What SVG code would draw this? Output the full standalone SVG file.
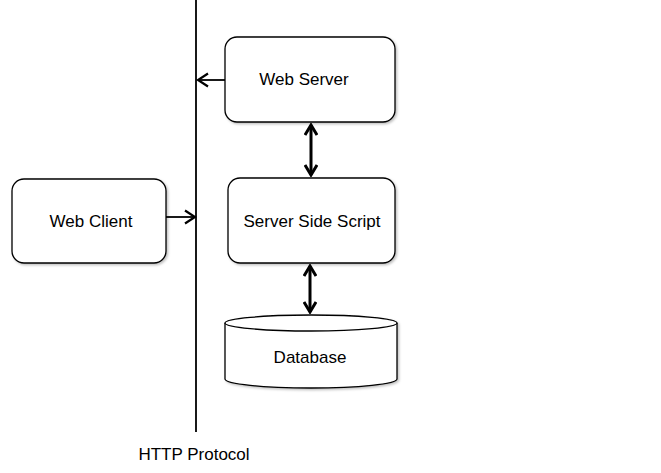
<svg xmlns="http://www.w3.org/2000/svg" width="661" height="473" viewBox="0 0 661 473">
<style>
.box{fill:#fff;stroke:#000;stroke-width:1.3}
.t{font-family:"Liberation Sans",Arial,sans-serif;font-size:17px;fill:#000;text-anchor:middle}
.c1{stroke:#000;stroke-width:1.8;fill:none}
.c2{stroke:#000;stroke-width:3;fill:none}
</style>
<defs>
<marker id="ah" markerWidth="14" markerHeight="16" refX="12" refY="8" orient="auto" markerUnits="userSpaceOnUse">
<path d="M2,1.5 L12,8 L2,14.5" fill="none" stroke="#000" stroke-width="2.2"/>
</marker>
<marker id="ahb" markerWidth="14" markerHeight="14" refX="12" refY="7" orient="auto-start-reverse" markerUnits="userSpaceOnUse">
<path d="M2,1 L12,7 L2,13" fill="none" stroke="#000" stroke-width="3"/>
</marker>
<filter id="sh" x="-10%" y="-10%" width="130%" height="130%">
<feDropShadow dx="1.5" dy="1.5" stdDeviation="1.2" flood-color="#000" flood-opacity="0.25"/>
</filter>
</defs>
<g id="connectors">
<line class="c1" x1="196" y1="0" x2="196" y2="432"/>
<line class="c1" x1="225" y1="80" x2="198" y2="80" marker-end="url(#ah)"/>
<line class="c1" x1="166" y1="217" x2="195" y2="217" marker-end="url(#ah)"/>
<line class="c2" x1="311" y1="125" x2="311" y2="175" marker-start="url(#ahb)" marker-end="url(#ahb)"/>
<line class="c2" x1="310" y1="266" x2="310" y2="312" marker-start="url(#ahb)" marker-end="url(#ahb)"/>
</g>
<g id="web-server">
<rect class="box" filter="url(#sh)" x="225" y="37" width="170" height="85" rx="12"/>
<text class="t" x="304" y="85">Web Server</text>
</g>
<g id="web-client">
<rect class="box" filter="url(#sh)" x="12" y="179" width="154" height="84" rx="12"/>
<text class="t" x="91" y="227">Web Client</text>
</g>
<g id="server-side-script">
<rect class="box" filter="url(#sh)" x="228" y="178" width="167" height="85" rx="12"/>
<text class="t" x="312" y="227">Server Side Script</text>
</g>
<g id="database">
<path class="box" filter="url(#sh)" d="M225,323 A86,8 0 0 1 397,323 L397,379 A86,9 0 0 1 225,379 Z"/>
<path class="box" fill="none" d="M225,323 A86,8 0 0 0 397,323"/>
<text class="t" x="310" y="363">Database</text>
</g>
<g id="http-label">
<text class="t" x="194" y="460">HTTP Protocol</text>
</g>
</svg>
